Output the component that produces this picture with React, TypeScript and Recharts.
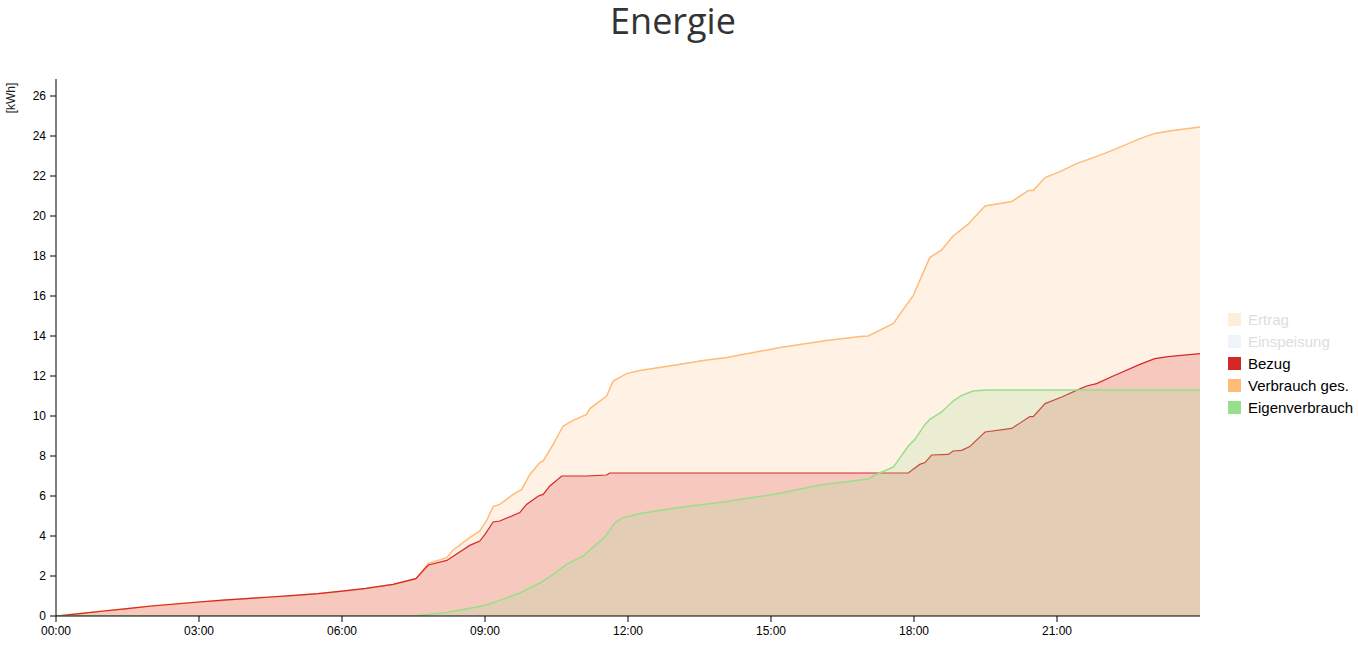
import React from 'react';
import { AreaChart, Area, XAxis, YAxis } from 'recharts';

// [hour, kWh]
const verbrauch: [number, number][] = [
  [0, 0], [0.5, 0.12], [1, 0.25], [1.5, 0.37], [2, 0.5], [2.5, 0.6], [3, 0.7], [3.5, 0.79],
  [4, 0.87], [4.5, 0.95], [5, 1.03], [5.5, 1.12], [6, 1.24], [6.5, 1.38], [7.07, 1.58], [7.55, 1.87],
  [7.81, 2.63], [8.2, 2.92], [8.33, 3.3], [8.68, 3.92], [8.89, 4.25], [9.03, 4.75], [9.17, 5.47],
  [9.31, 5.58], [9.59, 6.08], [9.77, 6.33], [9.94, 7.08], [10.15, 7.67], [10.22, 7.75], [10.43, 8.58],
  [10.64, 9.5], [10.85, 9.78], [11.13, 10.08], [11.2, 10.37], [11.55, 11.0], [11.69, 11.75],
  [11.97, 12.12], [12.25, 12.28], [13, 12.55], [13.58, 12.78], [14.07, 12.92], [15.19, 13.42],
  [15.47, 13.53], [16.17, 13.78], [16.87, 13.97], [17.04, 14.0], [17.57, 14.63], [17.7, 15.08],
  [17.98, 16.0], [18.33, 17.92], [18.58, 18.3], [18.82, 19.0], [19.13, 19.58], [19.49, 20.5],
  [20.05, 20.72], [20.4, 21.28], [20.5, 21.28], [20.75, 21.92], [21.06, 22.22], [21.41, 22.62],
  [21.76, 22.92], [22.04, 23.17], [22.46, 23.58], [22.74, 23.87], [23.05, 24.13], [23.43, 24.28],
  [24, 24.45],
];

const bezug: [number, number][] = [
  [0, 0], [0.5, 0.12], [1, 0.25], [1.5, 0.37], [2, 0.5], [2.5, 0.6], [3, 0.7], [3.5, 0.79],
  [4, 0.87], [4.5, 0.95], [5, 1.03], [5.5, 1.12], [6, 1.24], [6.5, 1.38], [7.07, 1.58], [7.55, 1.87],
  [7.81, 2.55], [8.2, 2.78], [8.34, 3.0], [8.68, 3.53], [8.89, 3.75], [9.0, 4.08], [9.17, 4.7],
  [9.31, 4.75], [9.73, 5.17], [9.87, 5.58], [10.12, 6.0], [10.22, 6.08], [10.36, 6.5], [10.61, 7.0],
  [11.13, 7.0], [11.55, 7.05], [11.62, 7.15], [17.88, 7.15], [18.12, 7.58], [18.23, 7.67],
  [18.37, 8.05], [18.72, 8.08], [18.82, 8.25], [19.0, 8.28], [19.17, 8.47], [19.49, 9.2],
  [20.05, 9.38], [20.43, 9.97], [20.5, 9.97], [20.75, 10.62], [21.1, 10.95], [21.41, 11.28],
  [21.62, 11.5], [21.83, 11.62], [22.18, 12.0], [22.74, 12.58], [23.05, 12.87], [23.33, 12.97],
  [24, 13.12],
];

const eigenverbrauch: [number, number][] = [
  [0, 0], [7.5, 0], [8.2, 0.18], [8.89, 0.47], [9.03, 0.55], [9.31, 0.78], [9.73, 1.15],
  [10.15, 1.64], [10.43, 2.08], [10.71, 2.58], [11.06, 3.0], [11.2, 3.3], [11.52, 3.97],
  [11.73, 4.67], [11.9, 4.92], [12.25, 5.13], [13, 5.4], [14.07, 5.72], [15.05, 6.08],
  [16.03, 6.55], [16.87, 6.8], [17.04, 6.85], [17.18, 7.05], [17.57, 7.45], [17.88, 8.5],
  [18.02, 8.83], [18.23, 9.58], [18.33, 9.83], [18.58, 10.2], [18.82, 10.75], [19.0, 11.03],
  [19.24, 11.25], [19.52, 11.3], [24, 11.3],
];

const xTicks = [0, 3, 6, 9, 12, 15, 18, 21];
const yTicks = [0, 2, 4, 6, 8, 10, 12, 14, 16, 18, 20, 22, 24, 26];

const legendItems = [
  { name: 'Ertrag', color: '#fdeed9', off: true },
  { name: 'Einspeisung', color: '#eff3fa', off: true },
  { name: 'Bezug', color: '#d62728', off: false },
  { name: 'Verbrauch ges.', color: '#ffbb78', off: false },
  { name: 'Eigenverbrauch', color: '#98df8a', off: false },
];

const toRows = (pts: [number, number][]) => pts.map(([t, v]) => ({ t, v }));
const fmtHour = (h: number) => `${String(h).padStart(2, '0')}:00`;

const tickStyle = { fontFamily: 'Arial, "Liberation Sans", sans-serif', fontSize: 12, fill: '#000' };

export default function App() {
  return (
    <div style={{ position: 'absolute', left: 0, top: 0, width: 1359, height: 645, background: '#fff' }}>
      <div
        style={{
          position: 'absolute', left: 0, width: 1346, top: 4, textAlign: 'center',
          fontFamily: '"Open Sans", sans-serif', fontSize: 36, color: '#333', lineHeight: '34px',
        }}
      >
        Energie
      </div>
      <div
        style={{
          position: 'absolute', left: -9, top: 91, width: 40, textAlign: 'center',
          transform: 'rotate(-90deg)', fontFamily: 'Arial, sans-serif', fontSize: 12, color: '#222',
        }}
      >
        [kWh]
      </div>
      <AreaChart width={1359} height={645} margin={{ top: 79, right: 159, bottom: -1, left: 16 }}>
        <XAxis
          dataKey="t"
          type="number"
          domain={[0, 24]}
          ticks={xTicks}
          tickFormatter={fmtHour}
          allowDataOverflow
          height={30}
          tick={tickStyle}
          tickSize={6}
          tickMargin={4}
          stroke="#000"
        />
        <YAxis
          type="number"
          domain={[0, 26.85]}
          ticks={yTicks}
          allowDataOverflow
          width={40}
          tick={tickStyle}
          tickSize={6}
          tickMargin={4}
          stroke="#000"
        />
        <Area
          data={toRows(verbrauch)}
          dataKey="v"
          type="linear"
          stroke="#ffbb78"
          strokeWidth={1.5}
          fill="#ffbb78"
          fillOpacity={0.2}
          isAnimationActive={false}
        />
        <Area
          data={toRows(bezug)}
          dataKey="v"
          type="linear"
          stroke="#d62728"
          strokeWidth={1.2}
          fill="#d62728"
          fillOpacity={0.2}
          isAnimationActive={false}
        />
        <Area
          data={toRows(eigenverbrauch)}
          dataKey="v"
          type="linear"
          stroke="#98df8a"
          strokeWidth={1.5}
          fill="#98df8a"
          fillOpacity={0.2}
          isAnimationActive={false}
        />
      </AreaChart>
      <div style={{ position: 'absolute', left: 1228, top: 308, fontFamily: 'Arial, sans-serif', fontSize: 15 }}>
        {legendItems.map((it) => (
          <div key={it.name} style={{ display: 'flex', alignItems: 'center', height: 22 }}>
            <span style={{ display: 'inline-block', width: 13, height: 13, background: it.color, marginRight: 7 }} />
            <span style={{ color: it.off ? '#ddd' : '#000' }}>{it.name}</span>
          </div>
        ))}
      </div>
    </div>
  );
}
